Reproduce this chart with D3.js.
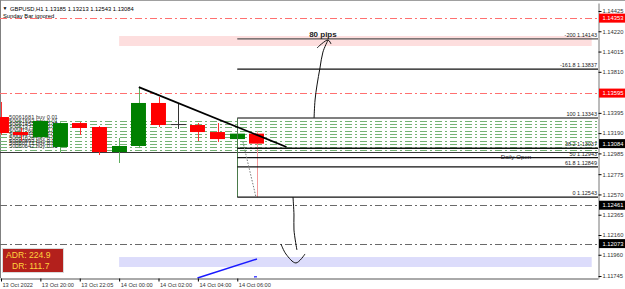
<!DOCTYPE html>
<html>
<head>
<meta charset="utf-8">
<script src="https://cdn.jsdelivr.net/npm/d3@7"></script>
<style>
  body { margin: 0; background: #fff; }
  text { font-family: "Liberation Sans", Arial, sans-serif; }
</style>
</head>
<body>
<svg width="625" height="289"></svg>
<script>
// GBPUSD H1 chart with fib levels, order lines and zones

// candles (bar index 0 = 13 Oct 18:00)
var opens  = [1.13353, 1.13201, 1.13151, 1.13050, 1.13292, 1.13252, 1.12999, 1.13060, 1.13495, 1.13282, 1.13272, 1.13201, 1.13130, 1.13185];
var highs  = [1.13505, 1.13242, 1.13330, 1.13300, 1.13302, 1.13262, 1.13141, 1.13656, 1.13555, 1.13495, 1.13292, 1.13292, 1.13201, 1.13213];
var lows   = [1.13171, 1.13110, 1.13130, 1.12989, 1.13171, 1.12969, 1.12888, 1.13039, 1.13252, 1.13232, 1.13110, 1.13100, 1.13120, 1.12543];
var closes = [1.13191, 1.13171, 1.13313, 1.13292, 1.13242, 1.12999, 1.13060, 1.13495, 1.13272, 1.13282, 1.13201, 1.13130, 1.13185, 1.13084];

var priceTicks = [1.14425, 1.14220, 1.14015, 1.13810, 1.13395, 1.13190, 1.12985, 1.12775, 1.12570, 1.12365, 1.12160, 1.11960, 1.11745];
var timeTickBars = [0, 2, 4, 6, 8, 10, 12];
var timeTickLabels = ["13 Oct 2022", "13 Oct 20:00", "13 Oct 22:05", "14 Oct 00:00", "14 Oct 02:00", "14 Oct 04:00", "14 Oct 06:00"];

// horizontal levels with a price tag on the axis
var levelPrices = [1.14353, 1.13595, 1.12461, 1.12073];
var levelKinds  = ["res", "res", "sup", "sup"];
var bidPrice = 1.13084;

// fibonacci
var fibLabels = ["-200", "-161.8", "100", "38.2", "50", "61.8", "0"];
var fibPrices = [1.14143, 1.13837, 1.13343, 1.13037, 1.12943, 1.12849, 1.12543];
var fibStartBar = 12;

var dailyOpen = 1.12999;

// open orders
var orderIds = ["50061681", "50061592", "50061453", "50061377", "50061265", "50061144", "50061028", "50060893", "50060771", "50060642"];
var orderPrices = [1.13313, 1.13282, 1.13250, 1.13212, 1.13180, 1.13150, 1.13110, 1.13080, 1.13050, 1.13020];

// zones [bar from, bar to, price top, price bottom]
var supplyZone = [6, 30, 1.14172, 1.14071];
var demandZone = [6, 30, 1.11937, 1.11836];

// drawings: [bar, price]
var trendLine = [[7, 1.13656], [14.5, 1.13050]];
var blueLine = [[9.98, 1.11725], [13, 1.11917]];
var blueTick = [[12.85, 1.11737], [13, 1.11737]];
var dottedLine = [[12.29, 1.13100], [12.95, 1.12543]];
var upArrow = [[15.90, 1.13343], [15.95, 1.13525], [16.05, 1.13677], [16.20, 1.13849], [16.35, 1.14010], [16.61, 1.14132]];
var upHead = [[16.05, 1.14051], [16.61, 1.14132], [16.76, 1.14091]];
var downArrow = [[14.83, 1.12544], [14.88, 1.12362], [14.88, 1.12210], [15.03, 1.12008]];
var downHead = [[14.22, 1.12069], [14.47, 1.11968], [14.98, 1.11877], [15.44, 1.11968]];
var pipsLabel = [16.35, 1.14165, "80 pips"];

var adr = 224.9, dr = 111.7;

var svg = d3.select("svg"),
    width = +svg.attr("width"),
    height = +svg.attr("height");

var plotRight = 598, plotTop = 3, plotBottom = 278;

var x = d3.scaleLinear().domain([-0.05, 30.32]).range([0, plotRight]);
var y = d3.scaleLinear().domain([1.11725, 1.14506]).range([plotBottom, plotTop]);

var line = d3.line()
    .x(function(d) { return x(d[0]); })
    .y(function(d) { return y(d[1]); });
var curve = d3.line()
    .x(function(d) { return x(d[0]); })
    .y(function(d) { return y(d[1]); })
    .curve(d3.curveCatmullRom);

var dashDot = "7,3,2,3";

// frame
svg.append("line").attr("x1", 0).attr("x2", width).attr("y1", 0.5).attr("y2", 0.5).attr("stroke", "#a0a0a0");
svg.append("line").attr("x1", 0.5).attr("x2", 0.5).attr("y1", 0).attr("y2", plotBottom).attr("stroke", "#808080");

// zones
[supplyZone, demandZone].forEach(function(z, i) {
  svg.append("rect")
      .attr("x", x(z[0]))
      .attr("y", y(z[2]))
      .attr("width", x(z[1]) - x(z[0]))
      .attr("height", y(z[3]) - y(z[2]))
      .attr("fill", i == 0 ? "#fddede" : "#dcdcfb");
});

// order lines
svg.append("g").selectAll("line")
  .data(orderPrices)
  .enter().append("line")
    .attr("x1", 0).attr("x2", plotRight)
    .attr("y1", function(d) { return Math.round(y(d)) + 0.5; })
    .attr("y2", function(d) { return Math.round(y(d)) + 0.5; })
    .attr("stroke", "#74b274")
    .attr("stroke-dasharray", dashDot);

// level lines
svg.append("g").selectAll("line")
  .data(levelPrices)
  .enter().append("line")
    .attr("x1", 0).attr("x2", plotRight)
    .attr("y1", function(d) { return Math.round(y(d)) + 0.5; })
    .attr("y2", function(d) { return Math.round(y(d)) + 0.5; })
    .attr("stroke", function(d, i) { return levelKinds[i] == "res" ? "#ff7070" : "#6a6a6a"; })
    .attr("stroke-dasharray", dashDot);

// daily open
svg.append("line")
    .attr("x1", 0).attr("x2", plotRight)
    .attr("y1", Math.round(y(dailyOpen)) + 0.5).attr("y2", Math.round(y(dailyOpen)) + 0.5)
    .attr("stroke", "#3a3a3a");
svg.append("text")
    .attr("x", 516).attr("y", y(dailyOpen) + 6.5)
    .attr("text-anchor", "middle")
    .attr("font-size", 6.2)
    .attr("fill", "#222")
    .text("Daily Open");

// order labels
svg.append("g").selectAll("text")
  .data(orderPrices)
  .enter().append("text")
    .attr("x", 9)
    .attr("y", function(d) { return y(d) - 1.5; })
    .attr("font-size", 5.7)
    .attr("fill", "#333")
    .text(function(d, i) { return orderIds[i] + " buy 0.01"; });

// candles
var bw = (x(1) - x(0)) * 0.76;
var candles = svg.append("g").selectAll("g")
  .data(opens)
  .enter().append("g");

candles.append("line")
    .attr("x1", function(d, i) { return Math.round(x(i)) + 0.5; })
    .attr("x2", function(d, i) { return Math.round(x(i)) + 0.5; })
    .attr("y1", function(d, i) { return y(highs[i]); })
    .attr("y2", function(d, i) { return y(lows[i]); })
    .attr("stroke", function(d, i) {
      if (closes[i] > d) return "#5fae5f";
      if (closes[i] < d) return i == opens.length - 1 ? "#f49a9a" : "#ff3030";
      return "#333";
    });

candles.append("rect")
    .attr("x", function(d, i) { return Math.round(x(i) - bw / 2); })
    .attr("y", function(d, i) { return y(Math.max(d, closes[i])); })
    .attr("width", bw)
    .attr("height", function(d, i) { return Math.max(1, y(Math.min(d, closes[i])) - y(Math.max(d, closes[i]))); })
    .attr("fill", function(d, i) {
      if (closes[i] > d) return "#008000";
      if (closes[i] < d) return "#ff0000";
      return "#333";
    });

// fib
var fib = svg.append("g");
fib.append("line")
    .attr("x1", Math.round(x(fibStartBar)) + 0.5).attr("x2", Math.round(x(fibStartBar)) + 0.5)
    .attr("y1", y(fibPrices[2])).attr("y2", y(fibPrices[6]))
    .attr("stroke", "#4a7a4a");
fib.selectAll("line.lvl")
  .data(fibPrices)
  .enter().append("line")
    .attr("class", "lvl")
    .attr("x1", x(fibStartBar)).attr("x2", plotRight)
    .attr("y1", function(d) { return y(d); })
    .attr("y2", function(d) { return y(d); })
    .attr("stroke", function(d, i) { return i == 0 || i == 2 ? "#555" : "#111"; })
    .attr("stroke-width", 1.3);
fib.selectAll("text")
  .data(fibPrices)
  .enter().append("text")
    .attr("x", plotRight - 1)
    .attr("y", function(d) { return y(d) - 2; })
    .attr("text-anchor", "end")
    .attr("font-size", 5.5)
    .attr("fill", "#222")
    .text(function(d, i) { return fibLabels[i] + " " + d.toFixed(5); });

// drawings
svg.append("path").attr("d", line(trendLine)).attr("stroke", "#000").attr("stroke-width", 1.8).attr("fill", "none");
svg.append("path").attr("d", line(dottedLine)).attr("stroke", "#777").attr("stroke-dasharray", "1.5,1.5").attr("fill", "none");
svg.append("path").attr("d", line(blueLine)).attr("stroke", "#1a1aff").attr("stroke-width", 1.5).attr("fill", "none");
svg.append("path").attr("d", line(blueTick)).attr("stroke", "#1a1aff").attr("stroke-width", 1.2).attr("fill", "none");
[upArrow, upHead, downArrow, downHead].forEach(function(p) {
  svg.append("path").attr("d", curve(p)).attr("stroke", "#111").attr("stroke-width", 1).attr("fill", "none");
});
svg.append("text")
    .attr("x", x(pipsLabel[0])).attr("y", y(pipsLabel[1]))
    .attr("text-anchor", "middle")
    .attr("font-size", 8)
    .attr("font-weight", "bold")
    .attr("fill", "#222")
    .text(pipsLabel[2]);

// header
svg.append("text").attr("x", 2.5).attr("y", 10).attr("font-size", 5).attr("fill", "#000").text("\u25BC");
svg.append("text").attr("x", 10).attr("y", 10.5).attr("font-size", 5.8).attr("fill", "#000")
    .text("GBPUSD,H1  " + [opens[13], highs[13], lows[13], closes[13]].map(function(v) { return v.toFixed(5); }).join(" "));
svg.append("text").attr("x", 3).attr("y", 17.5).attr("font-size", 5.8).attr("fill", "#000").text("Sunday Bar ignored");

// ADR box
svg.append("rect").attr("x", 2.5).attr("y", 248.5).attr("width", 61).attr("height", 24)
    .attr("fill", "#b3201c").attr("stroke", "#d9d9d9");
svg.append("text").attr("x", 6).attr("y", 258).attr("font-size", 8.6).attr("fill", "#ffd23c")
    .attr("font-family", "DejaVu Sans").text("ADR: " + adr.toFixed(1));
svg.append("text").attr("x", 12).attr("y", 269).attr("font-size", 8.6).attr("fill", "#ffd23c")
    .attr("font-family", "DejaVu Sans").text("DR: " + dr.toFixed(1));

// axes
var yAxis = svg.append("g")
    .attr("transform", "translate(" + (plotRight + 0.5) + ",0)")
    .call(d3.axisRight(y).tickValues(priceTicks).tickSize(3).tickSizeOuter(0).tickFormat(d3.format(".5f")));
yAxis.select(".domain").attr("stroke", "#777");
yAxis.selectAll("text").attr("font-size", 5.8).attr("fill", "#333").attr("x", 4).attr("font-family", "Liberation Sans");

var xAxis = svg.append("g")
    .attr("transform", "translate(0," + (plotBottom + 0.5) + ")")
    .call(d3.axisBottom(x).tickValues(timeTickBars).tickSize(3).tickSizeOuter(0)
      .tickFormat(function(d, i) { return timeTickLabels[i]; }));
xAxis.select(".domain").attr("stroke", "#555");
xAxis.selectAll("text").attr("font-size", 5.6).attr("fill", "#333")
    .attr("text-anchor", "start").attr("dx", 1).attr("y", 5).attr("font-family", "Liberation Sans");

// price tags
var tags = levelPrices.concat([bidPrice]);
var tagKinds = levelKinds.concat(["bid"]);
var tag = svg.append("g").selectAll("g")
  .data(tags)
  .enter().append("g")
    .attr("transform", function(d) { return "translate(" + (plotRight + 1) + "," + y(d) + ")"; });
tag.append("rect")
    .attr("x", 0).attr("y", -4.5).attr("width", width - plotRight).attr("height", 9)
    .attr("fill", function(d, i) { return tagKinds[i] == "res" ? "#ff0000" : "#000"; });
tag.append("text")
    .attr("x", 3.5).attr("y", 2)
    .attr("font-size", 5.8)
    .attr("fill", "#fff")
    .text(function(d) { return d.toFixed(5); });
</script>
</body>
</html>
